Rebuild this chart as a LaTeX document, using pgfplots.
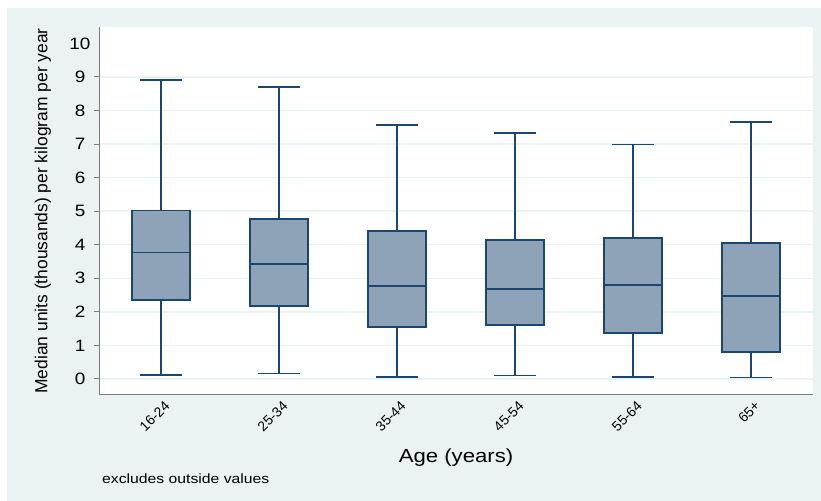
\documentclass[border=0pt]{standalone}
\usepackage{fontspec}
\setmainfont{Liberation Sans}
\usepackage{graphicx}
\usepackage{pgfplots}
\pgfplotsset{compat=1.18}
\usepgfplotslibrary{statistics}
\definecolor{bgc}{RGB}{234,242,243}
\definecolor{navy}{RGB}{26,71,111}
\definecolor{boxfill}{RGB}{143,163,184}
\definecolor{axgray}{RGB}{125,125,125}
\begin{document}
\begin{tikzpicture}
\path[use as bounding box, fill=white] (0,0) rectangle (821bp,501bp);
\fill[bgc] (7bp,0) rectangle (821bp,493bp);
\begin{axis}[
  at={(99bp,106bp)}, anchor=south west,
  scale only axis, width=714bp, height=368bp,
  xmin=0.475, xmax=6.525, ymin=-0.48, ymax=10.49,
  axis background/.style={fill=white},
  axis x line*=bottom, axis y line*=left,
  axis line style={axgray, line width=1bp, -},
  xtick={1,...,6},
  xticklabels={16-24,25-34,35-44,45-54,55-64,65+},
  x tick style={draw=none},
  xticklabel style={rotate=45, anchor=north east, font=\fontsize{14}{14}\selectfont, inner sep=2bp, xshift=4bp},
  ytick={0,...,9},
  extra y ticks={10},
  extra y tick style={major tick length=0pt, grid=none},
  tick align=outside, major tick length=5bp,
  y tick style={axgray, line width=1bp},
  yticklabel={\scalebox{1.15}[1]{\pgfmathprintnumber[assume math mode=true]{\tick}}},
  yticklabel style={font=\fontsize{16.5}{17}\selectfont, xshift=-5bp},
  ymajorgrids,
  y grid style={bgc, line width=1.5bp},
  ylabel={Median units (thousands) per kilogram per year},
  ylabel style={at={(axis description cs:-0.0785,0.5)}, anchor=center, font=\fontsize{17.5}{18}\selectfont},
  xlabel={\scalebox{1.17}[1]{Age (years)}},
  xlabel style={at={(axis description cs:0.5,-0.171)}, anchor=center, font=\fontsize{19}{19}\selectfont},
  boxplot/draw direction=y,
  boxplot/box extend=0.49,
  boxplot/whisker extend=0.35,
]
\addplot[draw=navy, fill=boxfill, line width=1.8bp, boxplot prepared={draw position=1, lower whisker=0.11, lower quartile=2.36, median=3.77, upper quartile=5.02, upper whisker=8.90}] coordinates {};
\addplot[draw=navy, fill=boxfill, line width=1.8bp, boxplot prepared={draw position=2, lower whisker=0.16, lower quartile=2.17, median=3.43, upper quartile=4.77, upper whisker=8.71}] coordinates {};
\addplot[draw=navy, fill=boxfill, line width=1.8bp, boxplot prepared={draw position=3, lower whisker=0.06, lower quartile=1.54, median=2.76, upper quartile=4.41, upper whisker=7.57}] coordinates {};
\addplot[draw=navy, fill=boxfill, line width=1.8bp, boxplot prepared={draw position=4, lower whisker=0.10, lower quartile=1.60, median=2.69, upper quartile=4.13, upper whisker=7.32}] coordinates {};
\addplot[draw=navy, fill=boxfill, line width=1.8bp, boxplot prepared={draw position=5, lower whisker=0.06, lower quartile=1.36, median=2.80, upper quartile=4.20, upper whisker=6.99}] coordinates {};
\addplot[draw=navy, fill=boxfill, line width=1.8bp, boxplot prepared={draw position=6, lower whisker=0.04, lower quartile=0.81, median=2.47, upper quartile=4.05, upper whisker=7.66}] coordinates {};
\end{axis}
\node[anchor=west, font=\fontsize{13.5}{14}\selectfont, inner sep=0pt] at (102bp,22bp) {\scalebox{1.17}[1]{excludes outside values}};
\end{tikzpicture}
\end{document}
